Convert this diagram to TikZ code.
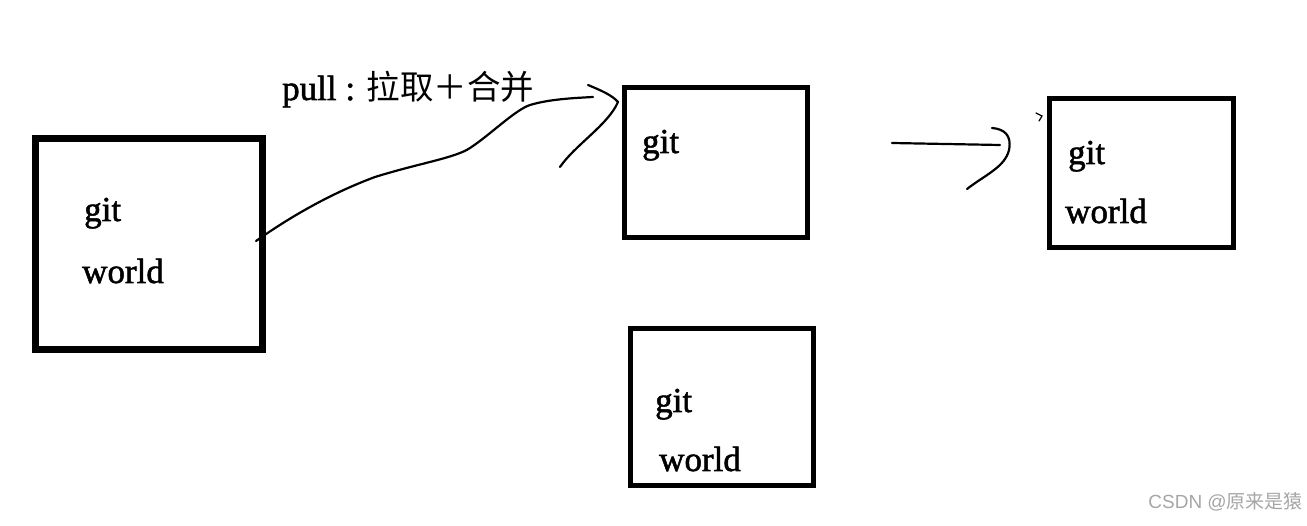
\documentclass[tikz,border=0pt]{standalone}
\usepackage{fontspec}
\setmainfont{Liberation Serif}
\newfontfamily\lbfont{Liberation Serif}[FakeBold=1.5]
\newfontfamily\cjk{Noto Sans CJK SC}
\newfontfamily\wmfont{Liberation Sans}
\begin{document}
\begin{tikzpicture}[x=1pt,y=-1pt,
  box/.style={draw,line width=#1,rectangle,inner sep=0pt},
  lbl/.style={anchor=base west,inner sep=0pt,font=\lbfont\fontsize{35}{40}\selectfont},
  hand/.style={line width=2.2pt,line cap=round,line join=round}]
\useasboundingbox (0,0) rectangle (1307,526);
\fill[white] (0,0) rectangle (1307,526);
% boxes
\node[box=7pt,minimum width=227pt,minimum height=211pt] (b1) at (148.5,244.5) {};
\node[box=5pt,minimum width=183pt,minimum height=150pt] (b2) at (715.5,163) {};
\node[box=5pt,minimum width=184pt,minimum height=149pt] (b3) at (1141.5,173) {};
\node[box=5pt,minimum width=183pt,minimum height=157pt] (b4) at (722,407) {};
% texts
\node[lbl] (t1a) at (84,221) {git};
\node[lbl] (t1b) at (82,283) {world};
\node[lbl] (t2a) at (642,153) {git};
\node[lbl] (t3a) at (1068,164) {git};
\node[lbl] (t3b) at (1065,223) {world};
\node[lbl] (t4a) at (655,412) {git};
\node[lbl] (t4b) at (659,471) {world};
\node[lbl] (pl) at (282,100) {pull : {\cjk\fontsize{33.5}{36}\selectfont 拉取＋合并}};
\node[anchor=base east,inner sep=0pt,text=black!35,font=\wmfont\fontsize{19}{22}\selectfont] (wm) at (1303,508) {CSDN @{\cjk 原来是猿}};
% hand-drawn pull arrow
\coordinate (c1) at (256,241);
\coordinate (c2) at (593,97);
\coordinate (h1) at (588,85);
\coordinate (h2) at (618,102);
\coordinate (h3) at (560,167);
\draw[hand] (c1) .. controls (300,210) and (340,190) .. (375,177)
  .. controls (420,163) and (455,158) .. (470,148)
  .. controls (490,135) and (515,110) .. (530,105)
  .. controls (550,99) and (575,98) .. (c2);
\draw[hand] (h1) .. controls (600,90) and (612,95) .. (h2)
  .. controls (608,125) and (575,145) .. (h3);
% second arrow
\coordinate (d1) at (892,143);
\coordinate (d2) at (1000,145);
\coordinate (e1) at (992,128);
\coordinate (e2) at (967,189);
\draw[hand] (d1) -- (d2);
\draw[hand] (e1) .. controls (1004,129) and (1012,135) .. (1009,150)
  .. controls (1005,167) and (985,175) .. (e2);
\draw[line width=1.2pt,line cap=round] (1036,113) -- (1042,116) -- (1039,121);
\end{tikzpicture}
\end{document}
